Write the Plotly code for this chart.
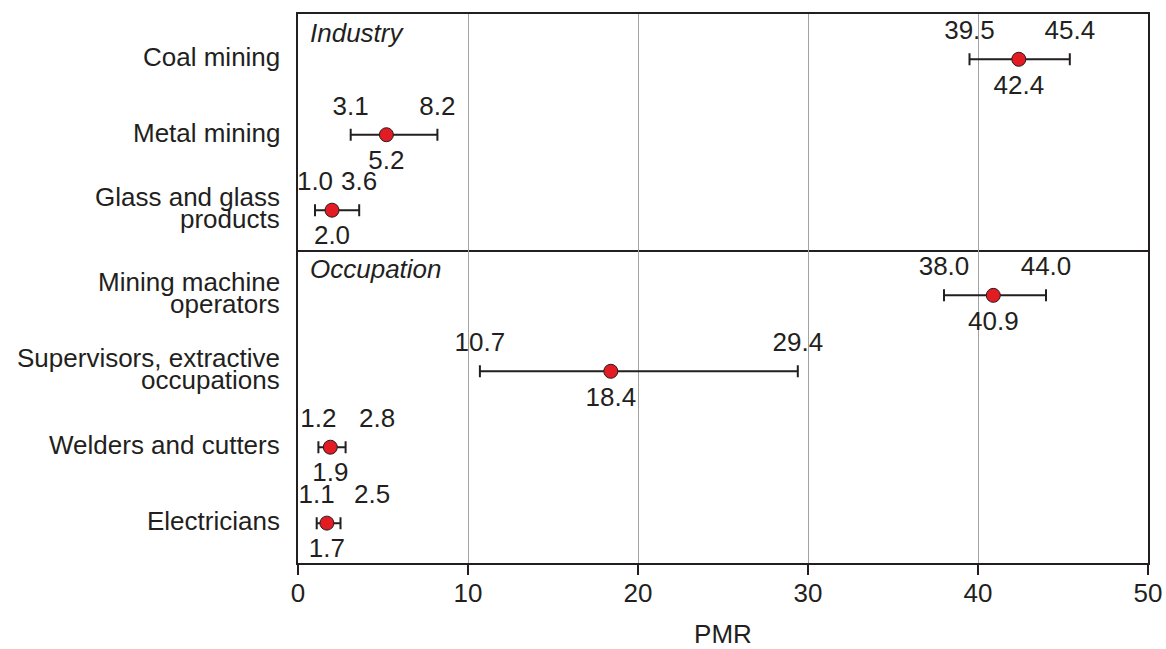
import plotly.graph_objects as go
from plotly.subplots import make_subplots

# ---- data ----
industry_labels = ["Coal mining", "Metal mining", "Glass and glass\nproducts"]
industry_pmr = [42.4, 5.2, 2.0]
industry_low = [39.5, 3.1, 1.0]
industry_high = [45.4, 8.2, 3.6]

occupation_labels = ["Mining machine\noperators", "Supervisors, extractive\noccupations",
                     "Welders and cutters", "Electricians"]
occupation_pmr = [40.9, 18.4, 1.9, 1.7]
occupation_low = [38.0, 10.7, 1.2, 1.1]
occupation_high = [44.0, 29.4, 2.8, 2.5]

panel_titles = ["Industry", "Occupation"]
x_ticks = [0, 10, 20, 30, 40, 50]

INK = "#231f20"
RED = "#e31b23"
FONT = "Liberation Sans, Arial, Helvetica, sans-serif"
FS = 26

fig = make_subplots(rows=2, cols=1, shared_xaxes=True, vertical_spacing=0,
                    row_heights=[0.4295, 0.5705])

panels = [
    (industry_labels, industry_pmr, industry_low, industry_high),
    (occupation_labels, occupation_pmr, occupation_low, occupation_high),
]

for r, (labels, est, lo, hi) in enumerate(panels, start=1):
    cats = [l.replace("\n", " ") for l in labels]
    fig.add_trace(go.Scatter(
        x=est, y=cats, mode="markers",
        marker=dict(size=14, color=RED, line=dict(color=INK, width=1)),
        error_x=dict(type="data", symmetric=False,
                     array=[h - e for h, e in zip(hi, est)],
                     arrayminus=[e - l for e, l in zip(est, lo)],
                     color=INK, thickness=2, width=6),
        showlegend=False, hoverinfo="skip"), row=r, col=1)
    # narrow intervals: push upper-limit label to the right of its end
    hi_pos = ["top right" if (h - l) < 2.0 else "top center" for l, h in zip(lo, hi)]
    for xs, pos, sz in ((lo, "top center", 20), (hi, hi_pos, 20), (est, "bottom center", 22)):
        fig.add_trace(go.Scatter(
            x=xs, y=cats, mode="markers+text",
            marker=dict(size=sz, opacity=0),
            text=[f"{v:.1f}" for v in xs], textposition=pos,
            textfont=dict(family=FONT, size=FS, color=INK),
            showlegend=False, hoverinfo="skip"), row=r, col=1)
    yname = "y" if r == 1 else "y2"
    # category labels (two-line labels with tight leading)
    for c, lab in zip(cats, labels):
        lines = lab.split("\n")
        n = len(lines)
        for i, line in enumerate(lines):
            fig.add_annotation(
                xref="paper", x=0, yref=yname, y=c, text=line, showarrow=False,
                xanchor="right", yanchor="middle", xshift=-16,
                yshift=((n - 1) / 2 - i) * 22 + 2,
                font=dict(family=FONT, size=FS, color=INK))
    # panel title
    fig.add_annotation(
        xref="paper", x=0, yref=f"{yname} domain", y=1, text=f"<i>{panel_titles[r-1]}</i>",
        showarrow=False, xanchor="left", yanchor="top", xshift=10, yshift=-2,
        font=dict(family=FONT, size=FS, color=INK))
    fig.update_yaxes(type="category", categoryorder="array", categoryarray=cats,
                     range=[len(cats) - 1 + 0.525, -0.6],
                     showline=True, mirror=True, linecolor=INK, linewidth=2,
                     showgrid=False, zeroline=False, showticklabels=False, ticks="",
                     row=r, col=1)

axis_common = dict(range=[0, 50], tickvals=x_ticks, showgrid=True, gridcolor="#a3a3a3",
                   gridwidth=1, zeroline=False, showline=True,
                   linecolor=INK, linewidth=2)
fig.update_xaxes(**axis_common, mirror=True, showticklabels=False, ticks="", row=1, col=1)
fig.update_xaxes(**axis_common, mirror=False, showticklabels=True, ticks="outside", ticklen=10,
                 tickwidth=2, tickcolor=INK, ticklabelstandoff=-4,
                 tickfont=dict(family=FONT, size=FS, color=INK),
                 title=dict(text="PMR", font=dict(family=FONT, size=FS, color=INK), standoff=33),
                 row=2, col=1)

fig.update_layout(
    width=1166, height=649,
    margin=dict(l=298, r=18, t=14, b=86, autoexpand=False),
    paper_bgcolor="white", plot_bgcolor="white",
    font=dict(family=FONT, size=FS, color=INK),
)

fig.write_html("out.html", config={"displayModeBar": False},
               post_script="document.body.style.margin='0';document.body.style.overflow='hidden';")
